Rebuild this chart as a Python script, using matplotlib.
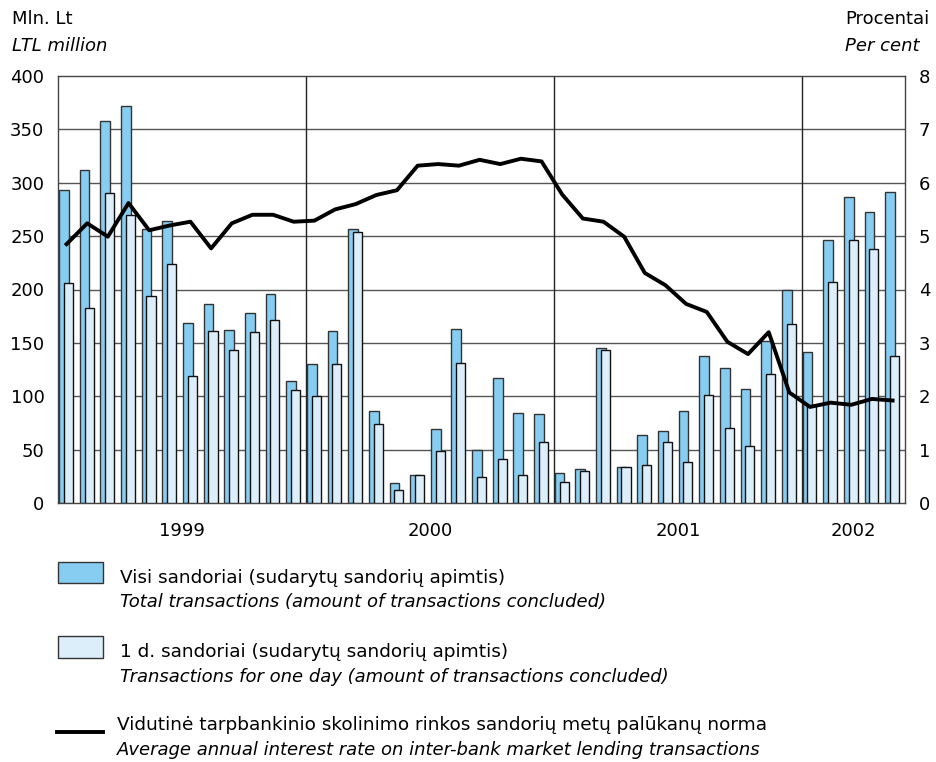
import numpy as np
import matplotlib
matplotlib.use('Agg')
import matplotlib.pyplot as plt
from matplotlib.patches import Rectangle
from matplotlib.lines import Line2D

plt.rcParams['font.family'] = ['DejaVu Sans']

# duomenys: 1999 m. sausis - 2002 m. geguze (41 men.)
years = ['1999', '2000', '2001', '2002']
total = [293, 312, 358, 372, 257, 264, 169, 186, 162, 178, 196, 114,
         130, 161, 257, 86, 19, 26, 69, 163, 50, 117, 84, 83,
         28, 32, 145, 34, 64, 67, 86, 138, 126, 107, 152, 200,
         141, 246, 287, 273, 291]
one_day = [206, 183, 290, 270, 194, 224, 119, 161, 143, 160, 171, 106,
           100, 130, 254, 74, 12, 26, 49, 131, 24, 41, 26, 57,
           20, 30, 143, 34, 36, 57, 38, 101, 70, 53, 121, 168,
           91, 207, 246, 238, 138]
rate = [4.85, 5.24, 4.99, 5.62, 5.11, 5.20, 5.27, 4.77, 5.24, 5.40, 5.40, 5.27,
        5.29, 5.50, 5.60, 5.77, 5.86, 6.32, 6.35, 6.32, 6.43, 6.35, 6.45, 6.40,
        5.78, 5.33, 5.27, 4.99, 4.31, 4.08, 3.73, 3.58, 3.02, 2.79, 3.20, 2.07,
        1.80, 1.88, 1.84, 1.95, 1.92]

n = len(total)
x = np.arange(n)
FS = 13

fig = plt.figure(figsize=(9.36, 7.62), dpi=100)
ax = fig.add_axes([58.3/936, 1-503/762, (905-58.3)/936, (503-76)/762])

# grid
for v in range(50, 400, 50):
    ax.axhline(v, color='#555555', lw=1, zorder=0)
for k in (12, 24, 36):
    ax.axvline(k, color='#222222', lw=1, zorder=0)

ax.bar(x + 0.04, total, width=0.47, align='edge', color='#87CDF2',
       edgecolor='#333333', lw=1, zorder=2)
ax.bar(x + 0.27, one_day, width=0.44, align='edge', color='#DDEEFB',
       edgecolor='#111111', lw=1, zorder=3)

ax.set_xlim(0, n)
ax.set_ylim(0, 400)
ax.set_yticks(range(0, 401, 50))
ax.set_xticks([6, 18, 30, 38.5])
ax.set_xticklabels(years)
ax.tick_params(axis='y', length=0, labelsize=FS, pad=10)
ax.tick_params(axis='x', length=0, labelsize=FS, pad=14)
for s in ax.spines.values():
    s.set_color('#444444')
    s.set_linewidth(1)

ax2 = ax.twinx()
ax2.plot(x + 0.4, rate, color='black', lw=2.8, zorder=5)
ax2.set_ylim(0, 8)
ax2.set_yticks(range(0, 9))
ax2.tick_params(axis='y', length=0, labelsize=FS, pad=10)
for s in ax2.spines.values():
    s.set_visible(False)

# axis titles
fig.text(12/936, 1-19/762, 'Mln. Lt', fontsize=FS, va='center', ha='left')
fig.text(12/936, 1-46/762, 'LTL million', fontsize=FS, va='center', ha='left', style='italic')
fig.text(845/936, 1-19/762, 'Procentai', fontsize=FS, va='center', ha='left')
fig.text(845/936, 1-46/762, 'Per cent', fontsize=FS, va='center', ha='left', style='italic')

# legend
def px(xp, yp):
    return xp/936, 1-yp/762

fig.patches.append(Rectangle(px(58.3, 583.3), 45/936, 21.6/762, transform=fig.transFigure,
                             facecolor='#87CDF2', edgecolor='#333333', lw=1))
fig.patches.append(Rectangle(px(58.3, 657.5), 45/936, 21.6/762, transform=fig.transFigure,
                             facecolor='#DDEEFB', edgecolor='#333333', lw=1))
fig.lines.append(Line2D([56.7/936, 103.3/936], [1-732/762, 1-732/762], transform=fig.transFigure,
                        color='black', lw=2.8))

legend_txt = [
    (578, 'Visi sandoriai (sudarytų sandorių apimtis)', 'normal'),
    (602, 'Total transactions (amount of transactions concluded)', 'italic'),
    (652, '1 d. sandoriai (sudarytų sandorių apimtis)', 'normal'),
    (677, 'Transactions for one day (amount of transactions concluded)', 'italic'),
    (725, 'Vidutinė tarpbankinio skolinimo rinkos sandorių metų palūkanų norma', 'normal'),
    (750, 'Average annual interest rate on inter-bank market lending transactions', 'italic'),
]
for yp, t, st in legend_txt:
    xp = 120 if yp < 700 else 117
    fs = FS + 0.3 if st == 'normal' else FS
    fig.text(xp/936, 1-yp/762, t, fontsize=fs, va='center', ha='left', style=st)

fig.savefig('out.png', dpi=100)
